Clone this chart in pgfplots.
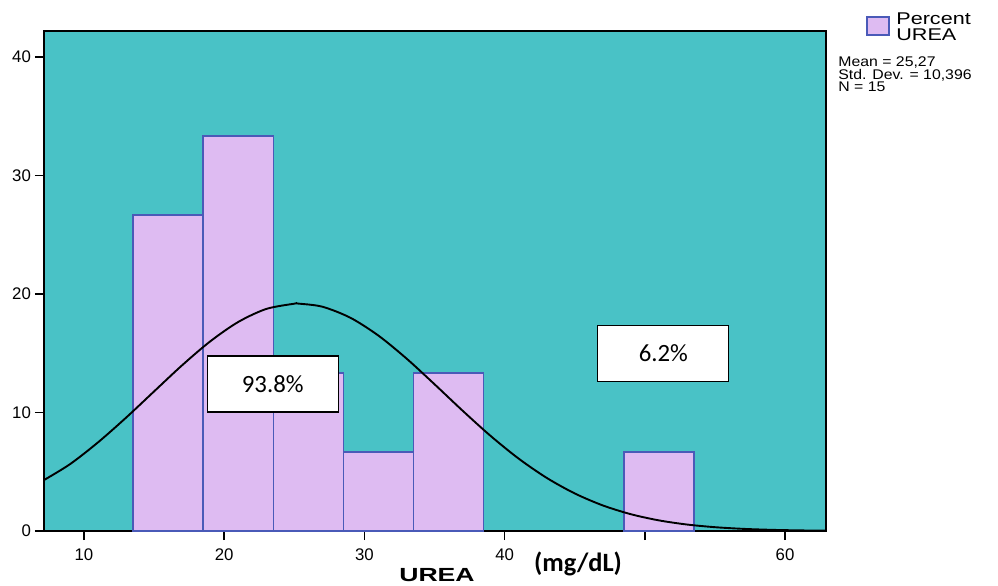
\documentclass[border=0pt]{standalone}
\usepackage{pgfplots}
\pgfplotsset{compat=1.18}
\usepackage{fontspec}
\setmainfont{Liberation Sans}
\newfontfamily\calib{Carlito}
\definecolor{bg}{HTML}{49C2C6}
\definecolor{barfill}{HTML}{DEBBF2}
\definecolor{baredge}{HTML}{4A5AB8}
\begin{document}
\begin{tikzpicture}[x=0.5pt,y=0.5pt]
\useasboundingbox (0,0) rectangle (998,585);
\begin{axis}[
  at={(22pt,27pt)}, anchor=south west,
  scale only axis, width=391pt, height=250pt,
  xmin=7.147, xmax=62.92, ymin=0, ymax=42.19,
  axis background/.style={fill=bg},
  axis line style={black, line width=0.8pt},
  tick pos=left, tick align=outside,
  major tick length=4.5pt,
  tick style={black, line width=0.8pt},
  xtick={10,20,30,40,50,60},
  xticklabels={10,20,30,40,,60},
  ytick={0,10,20,30,40},
  /pgf/number format/assume math mode=true,
  ticklabel style={font=\fontsize{8.4}{10}\selectfont},
  xticklabel style={yshift=-1pt},
  yticklabel style={xshift=1.5pt},
  xlabel={\scalebox{1.4}[1]{\textbf{UREA}}},
  xlabel style={font=\fontsize{9.5}{11}\selectfont, at={(axis description cs:0.5,0)}, anchor=base, yshift=-25pt, xshift=1pt},
  clip=false,
]
\addplot[ybar, bar width=5, bar shift=0pt, fill=barfill, draw=baredge, line width=0.7pt]
  coordinates {(16,26.667) (21,33.333) (26,13.333) (31,6.667) (36,13.333) (51,6.667)};
\addplot[black, line width=0.95pt, smooth] coordinates {
(7.147,4.30) (9,5.638) (11,7.480) (13,9.563) (15,11.781) (17,13.986) (19,15.999) (21,17.638)
(23,18.737) (25,19.18) (25.27,19.19) (27,18.925) (29,17.993) (31,16.486) (33,14.554) (35,12.383)
(37,10.154) (39,8.023) (41,6.108) (43,4.483) (45,3.170) (47,2.159) (49,1.418) (51,0.897)
(53,0.547) (55,0.3215) (57,0.182) (59,0.0994) (61,0.0523) (62.92,0.027)};
\node[draw=black, fill=white, line width=0.6pt, minimum width=65.5pt, minimum height=28pt, inner sep=0pt,
  font=\calib\fontsize{12.4}{14}\selectfont] at (axis cs:23.46,12.40) {93.8\%};
\node[draw=black, fill=white, line width=0.6pt, minimum width=65.5pt, minimum height=28pt, inner sep=0pt,
  font=\calib\fontsize{12.4}{14}\selectfont] at (axis cs:51.32,14.98) {6.2\%};
\end{axis}
% (mg/dL) label
\node[font=\calib\bfseries\fontsize{13.2}{15}\selectfont, anchor=center] at (578,585-564) {(mg/dL)};
% legend
\draw[fill=barfill, draw=baredge, line width=0.6pt] (867,585-17) rectangle (889,585-35);
\node[anchor=base west, inner sep=0pt, font=\fontsize{8.5}{8}\selectfont] at (896,585-25) {\scalebox{1.27}[1]{Percent}};
\node[anchor=base west, inner sep=0pt, font=\fontsize{8.5}{8}\selectfont] at (896,585-41) {\scalebox{1.27}[1]{UREA}};
\node[anchor=base west, inner sep=0pt, font=\fontsize{7}{6.5}\selectfont] at (838,585-67) {\scalebox{1.13}[1]{Mean = 25,27}};
\node[anchor=base west, inner sep=0pt, font=\fontsize{7}{6.5}\selectfont] at (838,585-79.5) {\scalebox{1.13}[1]{Std. Dev. = 10,396}};
\node[anchor=base west, inner sep=0pt, font=\fontsize{7}{6.5}\selectfont] at (838,585-92) {\scalebox{1.13}[1]{N = 15}};
\end{tikzpicture}
\end{document}
